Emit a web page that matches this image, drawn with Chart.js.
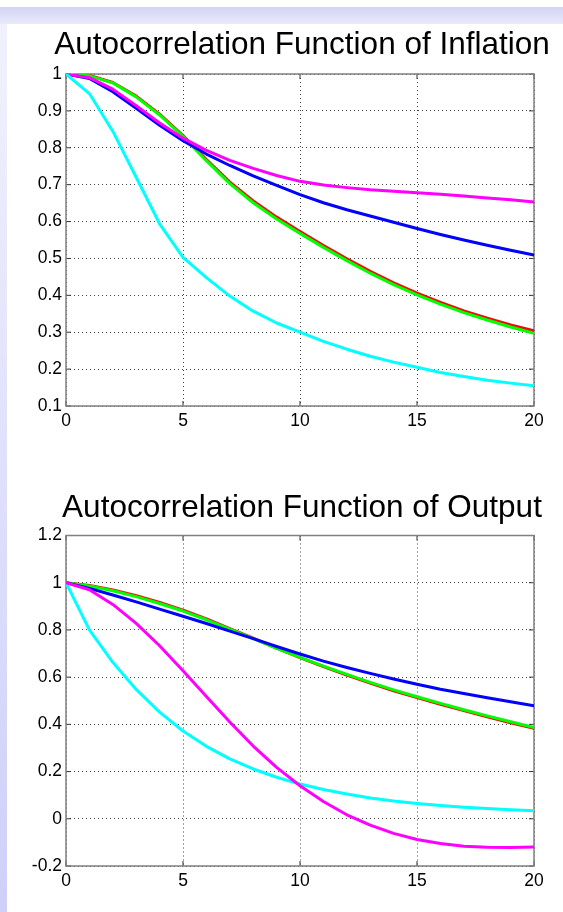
<!DOCTYPE html>
<html>
<head>
<meta charset="utf-8">
<script src="https://cdn.jsdelivr.net/npm/chart.js@4/dist/chart.umd.min.js"></script>
<style>
  html,body{margin:0;padding:0;background:#fff;}
  body{width:563px;height:912px;position:relative;overflow:hidden;font-family:"Liberation Sans",Arial,sans-serif;}
  #band{position:absolute;left:0;top:7px;width:563px;height:17px;background:linear-gradient(#d3d3f5,#e9e9fa);}
  #strip{position:absolute;left:0;top:24px;width:7px;height:888px;background:linear-gradient(#f1f1fd,#cfcff9);}
  canvas{position:absolute;left:7px;}
  #c1{top:24px;}
  #c2{top:480px;}
  .ttl{position:absolute;left:0;width:604px;text-align:center;font-size:31.5px;line-height:36px;color:#000;white-space:nowrap;z-index:2;}
  #t1{top:25px;}
  #t2{top:488px;}
</style>
</head>
<body>
<div id="band"></div>
<div id="strip"></div>
<canvas id="c1" width="556" height="412"></canvas>
<canvas id="c2" width="556" height="416"></canvas>
<div class="ttl" id="t1"></div>
<div class="ttl" id="t2"></div>
<script>
// ---- data ----
const lags = [0,1,2,3,4,5,6,7,8,9,10,11,12,13,14,15,16,17,18,19,20];
const xTicks = [0,5,10,15,20];

const titleInflation = "Autocorrelation Function of Inflation";
const titleOutput = "Autocorrelation Function of Output";

const yTicksInflation = [0.1,0.2,0.3,0.4,0.5,0.6,0.7,0.8,0.9,1];
const yTicksOutput = [-0.2,0,0.2,0.4,0.6,0.8,1,1.2];

const infRed     = [1,0.996,0.977,0.940,0.891,0.833,0.768,0.707,0.656,0.612,0.573,0.535,0.499,0.465,0.434,0.406,0.381,0.358,0.338,0.320,0.304];
const infGreen   = [1,0.995,0.976,0.938,0.889,0.831,0.765,0.703,0.651,0.607,0.568,0.530,0.494,0.460,0.429,0.401,0.376,0.353,0.333,0.314,0.297];
const infBlue    = [1,0.988,0.952,0.907,0.861,0.819,0.783,0.752,0.724,0.698,0.673,0.651,0.632,0.615,0.598,0.581,0.565,0.550,0.536,0.522,0.509];
const infMagenta = [1,0.990,0.959,0.914,0.867,0.826,0.793,0.766,0.744,0.725,0.709,0.699,0.692,0.686,0.682,0.678,0.674,0.669,0.664,0.659,0.653];
const infCyan    = [1,0.947,0.845,0.720,0.594,0.503,0.448,0.398,0.357,0.325,0.300,0.275,0.254,0.235,0.219,0.205,0.191,0.180,0.170,0.162,0.155];

const outRed     = [1,0.988,0.969,0.945,0.916,0.884,0.847,0.806,0.765,0.723,0.683,0.645,0.609,0.575,0.542,0.513,0.485,0.458,0.432,0.407,0.383];
const outGreen   = [1,0.986,0.966,0.941,0.912,0.880,0.843,0.803,0.763,0.722,0.684,0.647,0.612,0.578,0.546,0.517,0.489,0.462,0.436,0.411,0.387];
const outBlue    = [1,0.976,0.948,0.919,0.888,0.858,0.827,0.795,0.763,0.730,0.698,0.668,0.641,0.616,0.592,0.570,0.549,0.531,0.513,0.496,0.479];
const outMagenta = [1,0.970,0.908,0.828,0.733,0.627,0.518,0.410,0.308,0.218,0.140,0.073,0.017,-0.027,-0.062,-0.088,-0.105,-0.116,-0.121,-0.122,-0.120];
const outCyan    = [1,0.800,0.663,0.548,0.452,0.372,0.307,0.254,0.211,0.176,0.147,0.124,0.105,0.088,0.075,0.065,0.056,0.049,0.044,0.038,0.034];

// ---- helpers ----
const FONT = "'Liberation Sans', Arial, sans-serif";
function pts(arr){ return lags.map((l,i)=>({x:l,y:arr[i]})); }
function ds(label, arr, color){
  return {label, data:pts(arr), borderColor:color, backgroundColor:color, borderWidth:3,
          pointRadius:0, tension:0, fill:false, borderCapStyle:'round', borderJoinStyle:'round'};
}
function fmt(v){ return String(parseFloat(Number(v).toFixed(1))); }

document.getElementById('t1').textContent = titleInflation;
document.getElementById('t2').textContent = titleOutput;

const framePlugin = {
  id:'frame',
  beforeDatasetsDraw(chart){
    const {ctx, chartArea:a, scales:{x,y}} = chart;
    ctx.save();
    ctx.strokeStyle = '#333';
    ctx.lineWidth = 1;
    ctx.beginPath();
    x.ticks.forEach(t=>{ const px = x.getPixelForValue(t.value);
      ctx.moveTo(px,a.bottom); ctx.lineTo(px,a.bottom-5);
      ctx.moveTo(px,a.top); ctx.lineTo(px,a.top+5); });
    y.ticks.forEach(t=>{ const py = y.getPixelForValue(t.value);
      ctx.moveTo(a.left,py); ctx.lineTo(a.left+5,py);
      ctx.moveTo(a.right,py); ctx.lineTo(a.right-5,py); });
    ctx.stroke();
    ctx.strokeStyle = '#808080';
    ctx.lineWidth = 1.5;
    ctx.strokeRect(a.left, a.top, a.right-a.left, a.bottom-a.top);
    ctx.restore();
  }
};

function makeChart(id, padTop, yTicks, ymin, ymax, datasets){
  return new Chart(document.getElementById(id), {
    type:'line',
    data:{datasets},
    plugins:[framePlugin],
    options:{
      responsive:false, animation:false, events:[],
      layout:{padding:{left:0,right:29,top:padTop,bottom:0}},
      plugins:{ legend:{display:false}, tooltip:{enabled:false}, title:{display:false} },
      scales:{
        x:{type:'linear', min:0, max:20,
           afterBuildTicks(s){ s.ticks = xTicks.map(v=>({value:v})); },
           afterFit(s){ s.height = 30; },
           grid:{color:'#444', lineWidth:1, drawTicks:false},
           border:{display:false, dash:[1,3]},
           ticks:{color:'#000', padding:5, font:{family:FONT,size:17.5}, maxRotation:0,
                  callback:v=>String(v)}},
        y:{type:'linear', min:ymin, max:ymax,
           afterBuildTicks(s){ s.ticks = yTicks.map(v=>({value:v})); },
           afterFit(s){ s.width = 59; },
           grid:{color:'#444', lineWidth:1, drawTicks:false},
           border:{display:false, dash:[1,3]},
           ticks:{color:'#000', padding:4, font:{family:FONT,size:17.5}, callback:v=>fmt(v)}}
      }
    }
  });
}

makeChart('c1', 50, yTicksInflation, 0.1, 1, [
  ds('Cyan', infCyan, '#00ffff'),
  ds('Magenta', infMagenta, '#ff00ff'),
  ds('Blue', infBlue, '#0000ff'),
  ds('Green', infGreen, '#00ff00'),
  ds('Red', infRed, '#ff0000')
]);

makeChart('c2', 55.5, yTicksOutput, -0.2, 1.2, [
  ds('Magenta', outMagenta, '#ff00ff'),
  ds('Cyan', outCyan, '#00ffff'),
  ds('Blue', outBlue, '#0000ff'),
  ds('Green', outGreen, '#00ff00'),
  ds('Red', outRed, '#ff0000')
]);
</script>
</body>
</html>
